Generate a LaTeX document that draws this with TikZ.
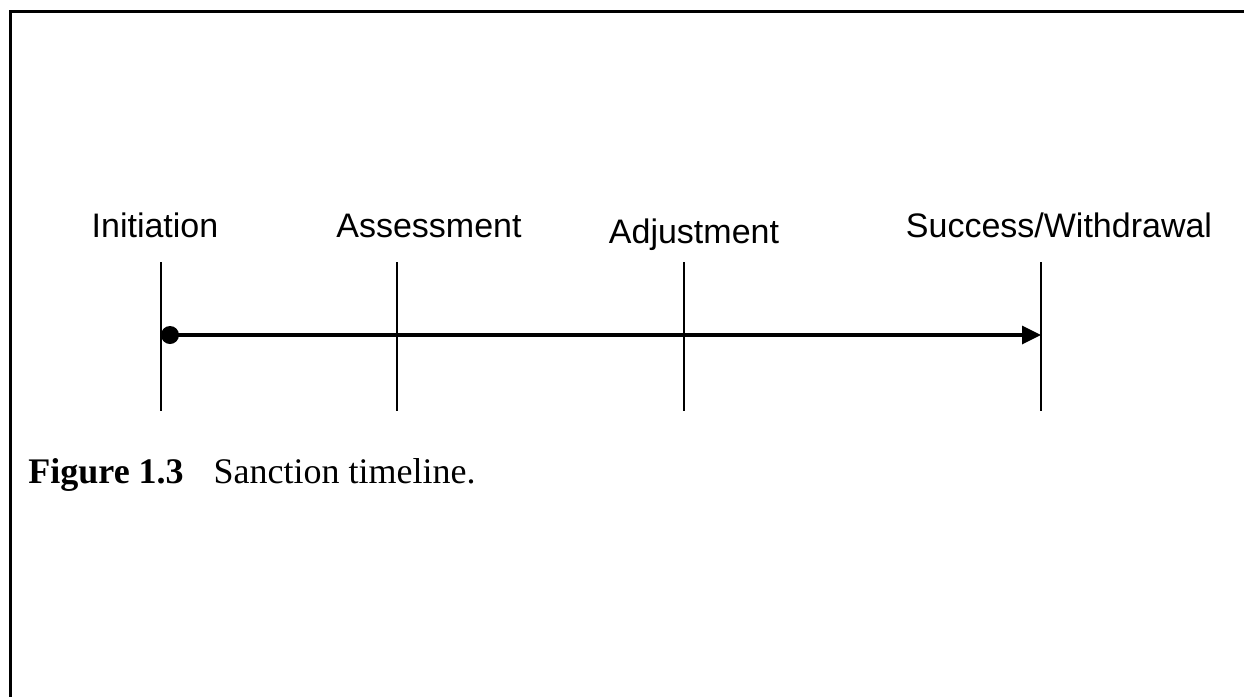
\documentclass[tikz,border=0pt]{standalone}
\usepackage{fontspec}
\setmainfont{Liberation Serif}
\setsansfont{Liberation Sans}
\usetikzlibrary{arrows.meta,positioning}

\begin{document}
\begin{tikzpicture}[
      x=0.5pt, y=-0.5pt,
      stage/.style={
        anchor=base,
        inner sep=0pt,
        font=\sffamily\fontsize{17}{20}\selectfont
      },
      tick/.style={draw=black, line width=0.65pt},
      dot/.style={circle, fill=black, inner sep=0pt, minimum size=9pt},
      flow/.style={-{Triangle[length=9.5pt, width=9pt]}, line width=1.7pt},
      caption/.style={anchor=base west, inner sep=0pt, font=\fontsize{18}{21}\selectfont}
    ]
      \useasboundingbox (0,0) rectangle (1244,697);
      % frame
      \draw[line width=1.5pt] (10,697) -- (10,11) -- (1244,11);
      % stage labels
      \node[stage] (initiation) at (155,237) {Initiation};
      \node[stage] (assessment) at (429,237) {Assessment};
      \node[stage] (adjustment) at (694,243) {Adjustment};
      \node[stage] (success) at (1059,237) {Success/Withdrawal};
      % tick marks
      \coordinate (initTop) at (161,262);
      \coordinate (initBot) at (161,411);
      \coordinate (assessTop) at (397,262);
      \coordinate (assessBot) at (397,411);
      \coordinate (adjustTop) at (684,262);
      \coordinate (adjustBot) at (684,411);
      \coordinate (successTop) at (1041,262);
      \coordinate (successBot) at (1041,411);
      \draw[tick] (initTop) -- (initBot);
      \draw[tick] (assessTop) -- (assessBot);
      \draw[tick] (adjustTop) -- (adjustBot);
      \draw[tick] (successTop) -- (successBot);
      % timeline
      \node[dot] (start) at (170,335) {};
      \coordinate (finish) at (1041,335);
      \draw[flow] (start.center) -- (finish);
      % caption
      \node[caption] (figcaption) at (28,483) {\textbf{Figure 1.3}\hspace{15pt}Sanction timeline.};
    \end{tikzpicture}
\end{document}
